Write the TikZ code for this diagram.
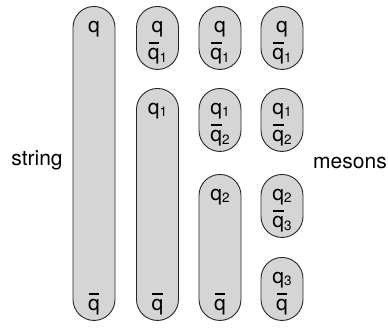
\documentclass[tikz,border=0pt]{standalone}
\usepackage{fontspec}
\setmainfont{TeX Gyre Heros}
\newcommand{\qbar}{\leavevmode\rlap{\hspace{0.03em}\rule[0.76em]{0.5em}{0.09em}}q}
\newcommand{\qsub}[1]{\raisebox{-0.12em}{\fontsize{13.5}{13.5}\selectfont #1}}
\tikzset{
  pill/.style={draw=black!85, line width=0.9pt, fill=gray!33, rounded corners=21pt,
    minimum width=42pt, inner sep=0pt, anchor=north},
  lbl/.style={anchor=base, inner sep=0pt, font=\fontsize{21}{24}\selectfont}
}
\begin{document}
\begin{tikzpicture}[x=1pt,y=-1pt]
        \useasboundingbox (0,0) rectangle (388,327);
        %string
        \node[pill, minimum height=314pt] (s1) at (94,6) {};
        \node[lbl] (s1t) at ([yshift=-26pt]s1.north) {q};
        \node[lbl] (s1b) at ([yshift=10pt]s1.south) {\qbar};
        %first break
        \node[pill, minimum height=63pt] (m21) at (157.5,6) {};
        \node[lbl] (m21t) at ([yshift=-26pt]m21.north) {q};
        \node[lbl] (m21b) at ([yshift=10pt]m21.south) {\qbar\qsub{1}};
        \node[pill, minimum height=232pt] (s2) at (157.5,88) {};
        \node[lbl] (s2t) at ([yshift=-26pt]s2.north) {q\qsub{1}};
        \node[lbl] (s2b) at ([yshift=10pt]s2.south) {\qbar};
        %second break
        \node[pill, minimum height=63pt] (m31) at (220,6) {};
        \node[lbl] (m31t) at ([yshift=-26pt]m31.north) {q};
        \node[lbl] (m31b) at ([yshift=10pt]m31.south) {\qbar\qsub{1}};
        \node[pill, minimum height=63pt] (m32) at (220,88) {};
        \node[lbl] (m32t) at ([yshift=-26pt]m32.north) {q\qsub{1}};
        \node[lbl] (m32b) at ([yshift=10pt]m32.south) {\qbar\qsub{2}};
        \node[pill, minimum height=146pt] (s3) at (220,174) {};
        \node[lbl] (s3t) at ([yshift=-26pt]s3.north) {q\qsub{2}};
        \node[lbl] (s3b) at ([yshift=10pt]s3.south) {\qbar};
        %mesons
        \node[pill, minimum height=63pt] (m41) at (282,6) {};
        \node[lbl] (m41t) at ([yshift=-26pt]m41.north) {q};
        \node[lbl] (m41b) at ([yshift=10pt]m41.south) {\qbar\qsub{1}};
        \node[pill, minimum height=63pt] (m42) at (282,88) {};
        \node[lbl] (m42t) at ([yshift=-26pt]m42.north) {q\qsub{1}};
        \node[lbl] (m42b) at ([yshift=10pt]m42.south) {\qbar\qsub{2}};
        \node[pill, minimum height=63pt] (m43) at (282,174) {};
        \node[lbl] (m43t) at ([yshift=-26pt]m43.north) {q\qsub{2}};
        \node[lbl] (m43b) at ([yshift=10pt]m43.south) {\qbar\qsub{3}};
        \node[pill, minimum height=63pt] (m44) at (282,257) {};
        \node[lbl] (m44t) at ([yshift=-26pt]m44.north) {q\qsub{3}};
        \node[lbl] (m44b) at ([yshift=10pt]m44.south) {\qbar};
        %side labels
        \node[lbl] (str) at (37,165) {string};
        \node[lbl] (mes) at (350,168) {mesons};
\end{tikzpicture}
\end{document}
